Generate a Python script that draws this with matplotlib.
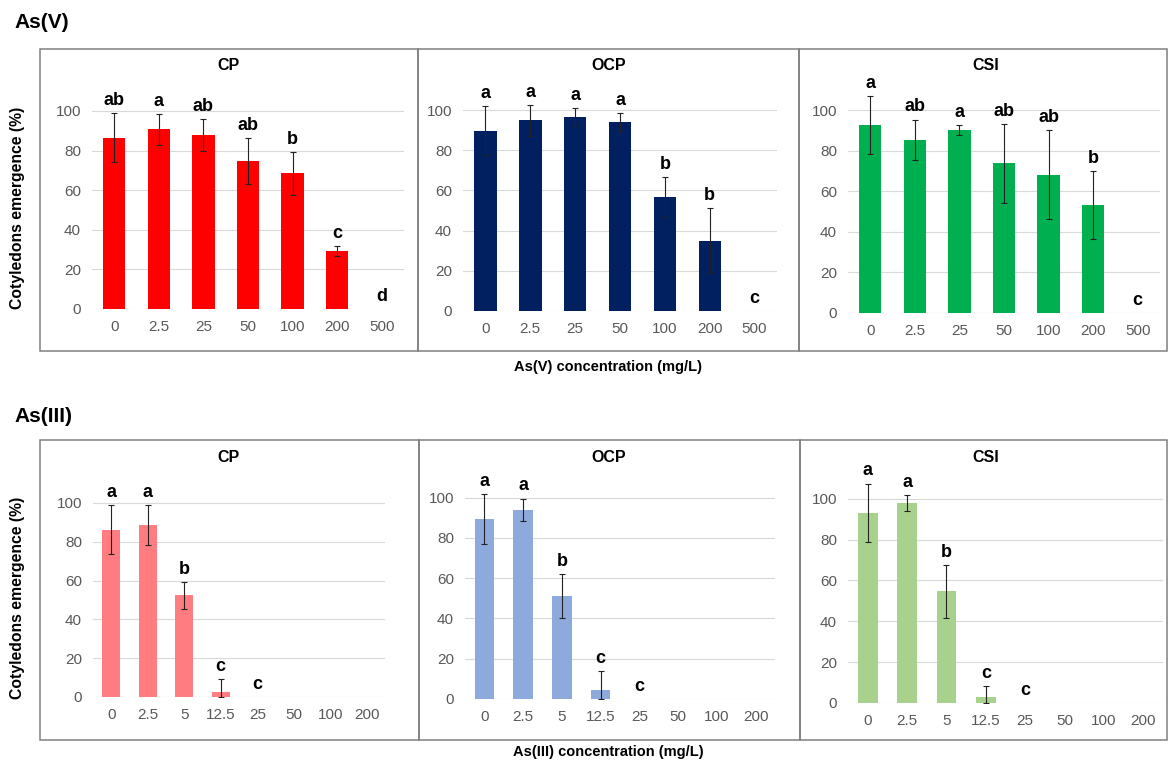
import matplotlib.pyplot as plt
from matplotlib.patches import Rectangle

plt.rcParams['font.family'] = ['Liberation Sans', 'DejaVu Sans']

# ---- data ----
conc_v = ['0', '2.5', '25', '50', '100', '200', '500']
conc_iii = ['0', '2.5', '5', '12.5', '25', '50', '100', '200']
panels = ['CP', 'OCP', 'CSI']

cp_v = [86.5, 90.7, 87.9, 74.6, 68.5, 29.5, 0]
cp_v_err = [12.5, 7.7, 8.3, 11.6, 10.7, 2.5, 0]
cp_v_let = ['ab', 'a', 'ab', 'ab', 'b', 'c', 'd']

ocp_v = [89.7, 94.9, 96.7, 94.2, 56.6, 35.0, 0]
ocp_v_err = [12.3, 7.7, 4.4, 4.4, 10.0, 16.0, 0]
ocp_v_let = ['a', 'a', 'a', 'a', 'b', 'b', 'c']

csi_v = [92.8, 85.5, 90.5, 73.8, 68.3, 53.3, 0]
csi_v_err = [14.4, 10.0, 2.5, 19.7, 22.0, 16.8, 0]
csi_v_let = ['a', 'ab', 'a', 'ab', 'ab', 'b', 'c']

cp_iii = [86.3, 88.7, 52.4, 2.8, 0, 0, 0, 0]
cp_iii_err = [12.5, 10.5, 7.1, 6.3, 0, 0, 0, 0]
cp_iii_let = ['a', 'a', 'b', 'c', 'c', '', '', '']

ocp_iii = [89.4, 94.0, 51.0, 4.3, 0, 0, 0, 0]
ocp_iii_err = [12.4, 5.6, 11.0, 9.4, 0, 0, 0, 0]
ocp_iii_let = ['a', 'a', 'b', 'c', 'c', '', '', '']

csi_iii = [93.0, 97.9, 54.6, 2.8, 0, 0, 0, 0]
csi_iii_err = [14.4, 4.0, 13.0, 5.7, 0, 0, 0, 0]
csi_iii_let = ['a', 'a', 'b', 'c', 'c', '', '', '']

W, H = 1168, 761
fig = plt.figure(figsize=(W / 100, H / 100), dpi=100)


def px_axes(left, right, y0, ppu, ymax=115):
    """axes from pixel coords: left/right edges, pixel row of y=0, pixels per unit"""
    height = ymax * ppu
    return fig.add_axes([left / W, (H - y0) / H, (right - left) / W, height / H])


def draw_panel(ax, cats, vals, errs, lets, color):
    x = list(range(len(cats)))
    ax.bar(x, vals, width=0.5, color=color, zorder=3)
    # error bars only where there is a spread
    ex = [xi for xi, e in zip(x, errs) if e > 0]
    ev = [v for v, e in zip(vals, errs) if e > 0]
    eu = [e for e in errs if e > 0]
    el = [min(e, v) for v, e in zip(vals, errs) if e > 0]
    ax.errorbar(ex, ev, yerr=[el, eu], fmt='none', ecolor='#222222',
                elinewidth=0.8, capsize=2, capthick=0.8, zorder=4)
    for xi, v, e, t in zip(x, vals, errs, lets):
        if t:
            ax.text(xi, v + e + 2, t, ha='center', va='bottom',
                    fontsize=13, fontweight='bold', color='black')
    ax.set_xlim(-0.5, len(cats) - 0.5)
    ax.set_ylim(0, 115)
    ax.set_yticks([0, 20, 40, 60, 80, 100])
    ax.set_xticks(x)
    ax.set_xticklabels(cats)
    for s in ax.spines.values():
        s.set_visible(False)
    ax.grid(axis='y', color='#D9D9D9', linewidth=0.8, zorder=0)
    ax.tick_params(length=0, labelsize=11, labelcolor='#595959', pad=8)


# panel boxes (top row and bottom row)
for (x0, x1) in [(40, 418), (418, 799), (799, 1167)]:
    fig.patches.append(Rectangle((x0 / W, (H - 351) / H), (x1 - x0) / W, 302 / H,
                                 transform=fig.transFigure, fill=False,
                                 edgecolor='#808080', linewidth=1.1))
for (x0, x1) in [(40, 419), (419, 800), (800, 1167)]:
    fig.patches.append(Rectangle((x0 / W, (H - 740) / H), (x1 - x0) / W, 300 / H,
                                 transform=fig.transFigure, fill=False,
                                 edgecolor='#808080', linewidth=1.1))

# top row: As(V)
ax1 = px_axes(92, 404, 309, 1.98)
draw_panel(ax1, conc_v, cp_v, cp_v_err, cp_v_let, '#FF0000')
ax2 = px_axes(463, 777, 311, 2.01)
draw_panel(ax2, conc_v, ocp_v, ocp_v_err, ocp_v_let, '#002060')
ax3 = px_axes(848, 1160, 313, 2.026)
draw_panel(ax3, conc_v, csi_v, csi_v_err, csi_v_let, '#00B050')

# bottom row: As(III)
ax4 = px_axes(93, 385, 697, 1.94)
draw_panel(ax4, conc_iii, cp_iii, cp_iii_err, cp_iii_let, '#FF7C80')
ax5 = px_axes(465, 775, 699, 2.013)
draw_panel(ax5, conc_iii, ocp_iii, ocp_iii_err, ocp_iii_let, '#8EA9DB')
ax6 = px_axes(848, 1163, 703, 2.043)
draw_panel(ax6, conc_iii, csi_iii, csi_iii_err, csi_iii_let, '#A9D18E')

# panel titles
for xc, name in zip([229, 609, 986], panels):
    fig.text(xc / W, 1 - 66 / H, name, ha='center', va='center',
             fontsize=11.5, fontweight='bold')
    fig.text(xc / W, 1 - 457 / H, name, ha='center', va='center',
             fontsize=11.5, fontweight='bold')

# row titles
fig.text(14 / W, 1 - 22 / H, 'As(V)', ha='left', va='center',
         fontsize=15, fontweight='bold')
fig.text(14 / W, 1 - 417 / H, 'As(III)', ha='left', va='center',
         fontsize=15, fontweight='bold')

# y labels
fig.text(18 / W, 1 - 208 / H, 'Cotyledons emergence (%)', rotation=90,
         ha='center', va='center', fontsize=11.3, fontweight='bold')
fig.text(18 / W, 1 - 598 / H, 'Cotyledons emergence (%)', rotation=90,
         ha='center', va='center', fontsize=11.3, fontweight='bold')

# x labels
fig.text(608 / W, 1 - 367 / H, 'As(V) concentration (mg/L)', ha='center',
         va='center', fontsize=10.5, fontweight='bold')
fig.text(608 / W, 1 - 752 / H, 'As(III) concentration (mg/L)', ha='center',
         va='center', fontsize=10.5, fontweight='bold')

fig.savefig('out.png', dpi=100)
